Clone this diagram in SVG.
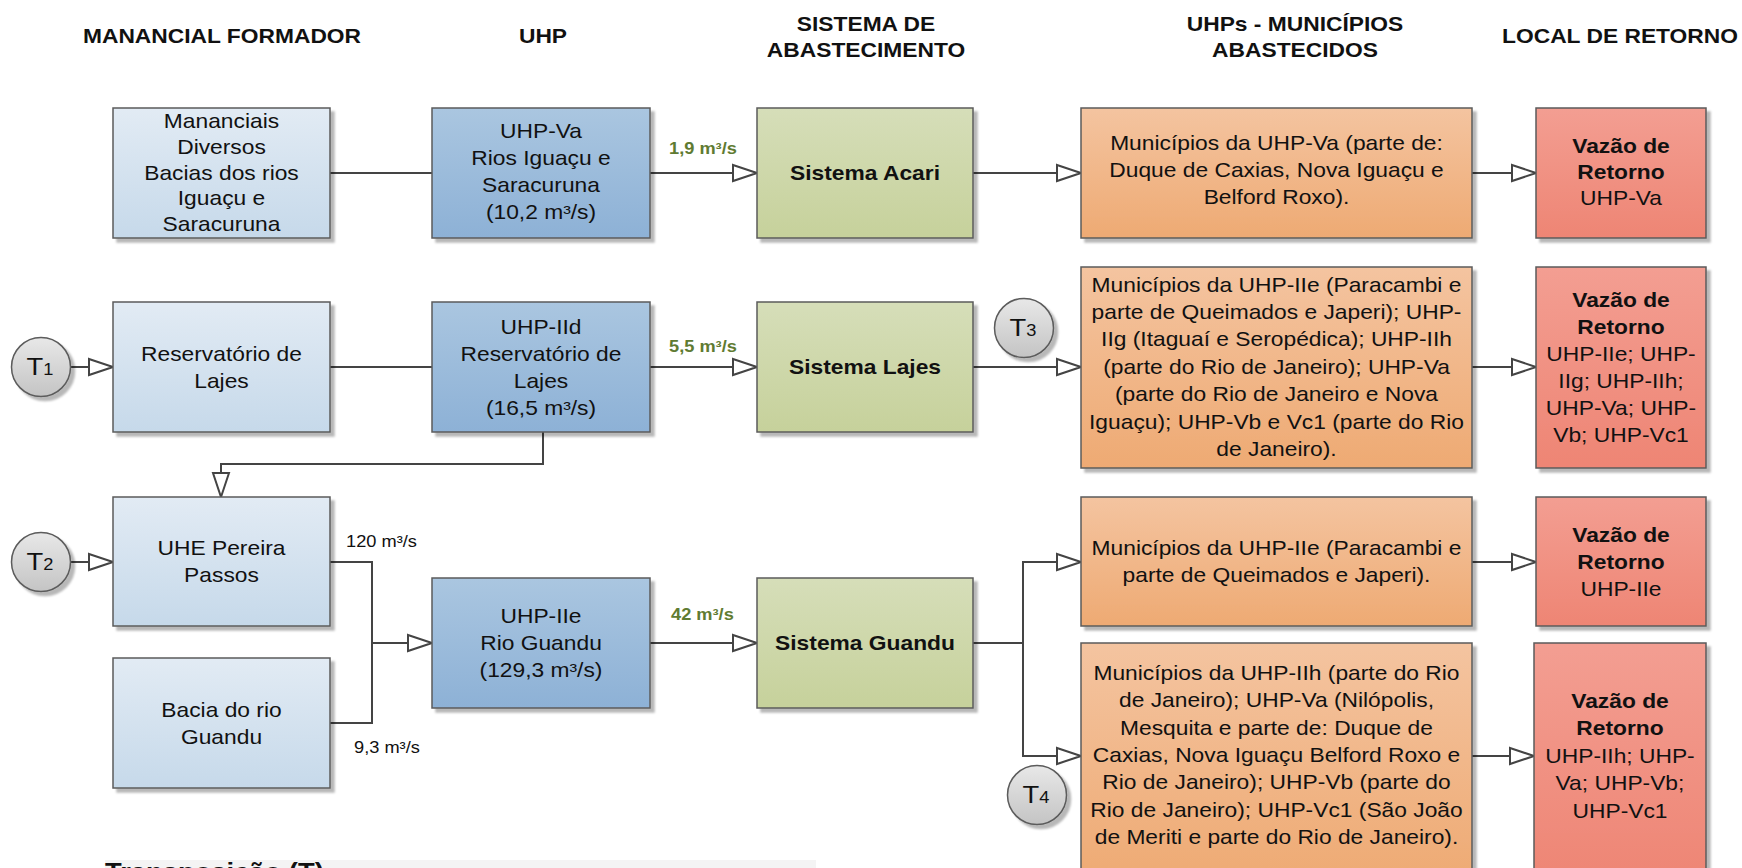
<svg xmlns="http://www.w3.org/2000/svg" width="1742" height="868" viewBox="0 0 1742 868">
  <defs>
    <linearGradient id="gLight" x1="0" y1="0" x2="0" y2="1">
      <stop offset="0" stop-color="#e2ebf4"/>
      <stop offset="1" stop-color="#c6d9ea"/>
    </linearGradient>
    <linearGradient id="gDark" x1="0" y1="0" x2="0" y2="1">
      <stop offset="0" stop-color="#aac6e0"/>
      <stop offset="1" stop-color="#8db1d6"/>
    </linearGradient>
    <linearGradient id="gGreen" x1="0" y1="0" x2="0" y2="1">
      <stop offset="0" stop-color="#d6deb9"/>
      <stop offset="1" stop-color="#c6d19b"/>
    </linearGradient>
    <linearGradient id="gOrange" x1="0" y1="0" x2="0" y2="1">
      <stop offset="0" stop-color="#f4c4a0"/>
      <stop offset="1" stop-color="#eeaa73"/>
    </linearGradient>
    <linearGradient id="gRed" x1="0" y1="0" x2="0" y2="1">
      <stop offset="0" stop-color="#f39e92"/>
      <stop offset="1" stop-color="#ee8574"/>
    </linearGradient>
    <linearGradient id="gGrey" x1="0" y1="0" x2="0" y2="1">
      <stop offset="0" stop-color="#e8e8e8"/>
      <stop offset="1" stop-color="#c4c4c4"/>
    </linearGradient>
    <filter id="shadow" x="-10%" y="-10%" width="130%" height="130%">
      <feDropShadow dx="4" dy="4" stdDeviation="1.2" flood-color="#000" flood-opacity="0.28"/>
    </filter>
    <marker id="arrow" viewBox="0 0 26 20" refX="25" refY="10" markerWidth="26" markerHeight="20" markerUnits="userSpaceOnUse" orient="auto">
      <path d="M1,2 L25,10 L1,18 Z" fill="#fff" stroke="#444" stroke-width="2"/>
    </marker>
  </defs>
  <style>
    .box{stroke:#5b5b5b;stroke-width:1.5;filter:url(#shadow)}
    .light{fill:url(#gLight)}
    .dark{fill:url(#gDark)}
    .green{fill:url(#gGreen)}
    .orange{fill:url(#gOrange)}
    .red{fill:url(#gRed)}
    .tank{fill:url(#gGrey);stroke:#5b5b5b;stroke-width:1.5;filter:url(#shadow)}
    .conn{fill:none;stroke:#444;stroke-width:2}
    .arr{marker-end:url(#arrow)}
    text{font-family:"Liberation Sans",Arial,Helvetica,sans-serif;fill:#111}
    .c{text-anchor:middle;font-size:20px}
    .b{font-weight:bold}
    .hdr{text-anchor:middle;font-size:20px;font-weight:bold}
    .flow{font-size:16px;font-weight:bold;fill:#5f7b32}
    .qty{font-size:16px}
    .tag{text-anchor:middle;font-size:24px}
    .sub{font-size:16px}
  </style>

  <rect width="1742" height="868" fill="#ffffff"/>

  <!-- column headings -->
  <g id="headers">
    <text class="hdr" transform="matrix(1.14 0 0 1 222 0)"><tspan x="0" y="43">MANANCIAL FORMADOR</tspan></text>
    <text class="hdr" transform="matrix(1.14 0 0 1 543 0)"><tspan x="0" y="43">UHP</tspan></text>
    <text class="hdr" transform="matrix(1.14 0 0 1 866 0)"><tspan x="0" y="31">SISTEMA DE</tspan><tspan x="0" y="57">ABASTECIMENTO</tspan></text>
    <text class="hdr" transform="matrix(1.14 0 0 1 1295 0)"><tspan x="0" y="31">UHPs - MUNICÍPIOS</tspan><tspan x="0" y="57">ABASTECIDOS</tspan></text>
    <text class="hdr" transform="matrix(1.14 0 0 1 1620 0)"><tspan x="0" y="43">LOCAL DE RETORNO</tspan></text>
  </g>

  <!-- connectors -->
  <g id="connectors">
    <path class="conn" d="M330,173 H432"/>
    <path class="conn arr" d="M650,173 H757"/>
    <path class="conn arr" d="M973,173 H1081"/>
    <path class="conn arr" d="M1472,173 H1536"/>

    <path class="conn arr" d="M70.5,367 H113"/>
    <path class="conn" d="M330,367 H432"/>
    <path class="conn arr" d="M650,367 H757"/>
    <path class="conn arr" d="M973,367 H1081"/>
    <path class="conn arr" d="M1472,367 H1536"/>
    <path class="conn arr" d="M543,432 V464 H221 V497"/>

    <path class="conn arr" d="M70.5,562 H113"/>
    <path class="conn" d="M330,562 H372 V723 H330"/>
    <path class="conn arr" d="M372,643 H432"/>
    <path class="conn arr" d="M650,643 H757"/>
    <path class="conn" d="M973,643 H1023"/>
    <path class="conn arr" d="M1023,643 V562 H1081"/>
    <path class="conn arr" d="M1023,643 V756 H1081"/>
    <path class="conn arr" d="M1472,562 H1536"/>
    <path class="conn arr" d="M1472,756 H1534"/>
  </g>

  <!-- row 1 -->
  <g id="mananciais-diversos">
    <rect class="box light" x="113" y="108" width="217" height="130"/>
    <text class="c" transform="matrix(1.14 0 0 1 221.5 0)"><tspan x="0" y="128">Mananciais</tspan><tspan x="0" y="154">Diversos</tspan><tspan x="0" y="180">Bacias dos rios</tspan><tspan x="0" y="205">Iguaçu e</tspan><tspan x="0" y="231">Saracuruna</tspan></text>
  </g>
  <g id="uhp-va">
    <rect class="box dark" x="432" y="108" width="218" height="130"/>
    <text class="c" transform="matrix(1.14 0 0 1 541 0)"><tspan x="0" y="138">UHP-Va</tspan><tspan x="0" y="165">Rios Iguaçu e</tspan><tspan x="0" y="192">Saracuruna</tspan><tspan x="0" y="219">(10,2 m³/s)</tspan></text>
  </g>
  <g id="sistema-acari">
    <rect class="box green" x="757" y="108" width="216" height="130"/>
    <text class="c b" transform="matrix(1.14 0 0 1 865 0)"><tspan x="0" y="180">Sistema Acari</tspan></text>
  </g>
  <g id="municipios-va">
    <rect class="box orange" x="1081" y="108" width="391" height="130"/>
    <text class="c" transform="matrix(1.14 0 0 1 1276.5 0)"><tspan x="0" y="150">Municípios da UHP-Va (parte de:</tspan><tspan x="0" y="177">Duque de Caxias, Nova Iguaçu e</tspan><tspan x="0" y="204">Belford Roxo).</tspan></text>
  </g>
  <g id="retorno-va">
    <rect class="box red" x="1536" y="108" width="170" height="130"/>
    <text class="c" transform="matrix(1.14 0 0 1 1621 0)"><tspan class="b" x="0" y="153">Vazão de</tspan><tspan class="b" x="0" y="179">Retorno</tspan><tspan x="0" y="205">UHP-Va</tspan></text>
  </g>

  <!-- row 2 -->
  <g id="t1">
    <circle class="tank" cx="41" cy="367" r="29.5"/>
    <text class="tag" transform="matrix(1.14 0 0 1 40 0)"><tspan x="0" y="375.5">T<tspan class="sub">1</tspan></tspan></text>
  </g>
  <g id="reservatorio-lajes">
    <rect class="box light" x="113" y="302" width="217" height="130"/>
    <text class="c" transform="matrix(1.14 0 0 1 221.5 0)"><tspan x="0" y="361">Reservatório de</tspan><tspan x="0" y="388">Lajes</tspan></text>
  </g>
  <g id="uhp-iid">
    <rect class="box dark" x="432" y="302" width="218" height="130"/>
    <text class="c" transform="matrix(1.14 0 0 1 541 0)"><tspan x="0" y="334">UHP-IId</tspan><tspan x="0" y="361">Reservatório de</tspan><tspan x="0" y="388">Lajes</tspan><tspan x="0" y="415">(16,5 m³/s)</tspan></text>
  </g>
  <g id="sistema-lajes">
    <rect class="box green" x="757" y="302" width="216" height="130"/>
    <text class="c b" transform="matrix(1.14 0 0 1 865 0)"><tspan x="0" y="374">Sistema Lajes</tspan></text>
  </g>
  <g id="t3">
    <circle class="tank" cx="1024" cy="328" r="29.5"/>
    <text class="tag" transform="matrix(1.14 0 0 1 1023 0)"><tspan x="0" y="336.5">T<tspan class="sub">3</tspan></tspan></text>
  </g>
  <g id="municipios-lajes">
    <rect class="box orange" x="1081" y="267" width="391" height="201"/>
    <text class="c" transform="matrix(1.14 0 0 1 1276.5 0)"><tspan x="0" y="292">Municípios da UHP-IIe (Paracambi e</tspan><tspan x="0" y="319">parte de Queimados e Japeri); UHP-</tspan><tspan x="0" y="346.5">IIg (Itaguaí e Seropédica); UHP-IIh</tspan><tspan x="0" y="374">(parte do Rio de Janeiro); UHP-Va</tspan><tspan x="0" y="401.5">(parte do Rio de Janeiro e Nova</tspan><tspan x="0" y="429">Iguaçu); UHP-Vb e Vc1 (parte do Rio</tspan><tspan x="0" y="456.5">de Janeiro).</tspan></text>
  </g>
  <g id="retorno-lajes">
    <rect class="box red" x="1536" y="267" width="170" height="201"/>
    <text class="c" transform="matrix(1.14 0 0 1 1621 0)"><tspan class="b" x="0" y="307">Vazão de</tspan><tspan class="b" x="0" y="334">Retorno</tspan><tspan x="0" y="361">UHP-IIe; UHP-</tspan><tspan x="0" y="388">IIg; UHP-IIh;</tspan><tspan x="0" y="415">UHP-Va; UHP-</tspan><tspan x="0" y="442">Vb; UHP-Vc1</tspan></text>
  </g>

  <!-- row 3 -->
  <g id="t2">
    <circle class="tank" cx="41" cy="562" r="29.5"/>
    <text class="tag" transform="matrix(1.14 0 0 1 40 0)"><tspan x="0" y="570.5">T<tspan class="sub">2</tspan></tspan></text>
  </g>
  <g id="uhe-pereira-passos">
    <rect class="box light" x="113" y="497" width="217" height="129"/>
    <text class="c" transform="matrix(1.14 0 0 1 221.5 0)"><tspan x="0" y="555">UHE Pereira</tspan><tspan x="0" y="582">Passos</tspan></text>
  </g>
  <g id="bacia-guandu">
    <rect class="box light" x="113" y="658" width="217" height="130"/>
    <text class="c" transform="matrix(1.14 0 0 1 221.5 0)"><tspan x="0" y="717">Bacia do rio</tspan><tspan x="0" y="744">Guandu</tspan></text>
  </g>
  <g id="uhp-iie">
    <rect class="box dark" x="432" y="578" width="218" height="130"/>
    <text class="c" transform="matrix(1.14 0 0 1 541 0)"><tspan x="0" y="623">UHP-IIe</tspan><tspan x="0" y="650">Rio Guandu</tspan><tspan x="0" y="677">(129,3 m³/s)</tspan></text>
  </g>
  <g id="sistema-guandu">
    <rect class="box green" x="757" y="578" width="216" height="130"/>
    <text class="c b" transform="matrix(1.14 0 0 1 865 0)"><tspan x="0" y="650">Sistema Guandu</tspan></text>
  </g>
  <g id="municipios-iie">
    <rect class="box orange" x="1081" y="497" width="391" height="129"/>
    <text class="c" transform="matrix(1.14 0 0 1 1276.5 0)"><tspan x="0" y="555">Municípios da UHP-IIe (Paracambi e</tspan><tspan x="0" y="582">parte de Queimados e Japeri).</tspan></text>
  </g>
  <g id="retorno-iie">
    <rect class="box red" x="1536" y="497" width="170" height="129"/>
    <text class="c" transform="matrix(1.14 0 0 1 1621 0)"><tspan class="b" x="0" y="542">Vazão de</tspan><tspan class="b" x="0" y="569">Retorno</tspan><tspan x="0" y="596">UHP-IIe</tspan></text>
  </g>
  <g id="t4">
    <circle class="tank" cx="1037" cy="795" r="29.5"/>
    <text class="tag" transform="matrix(1.14 0 0 1 1036 0)"><tspan x="0" y="803.5">T<tspan class="sub">4</tspan></tspan></text>
  </g>
  <g id="municipios-guandu">
    <rect class="box orange" x="1081" y="643" width="391" height="240"/>
    <text class="c" transform="matrix(1.14 0 0 1 1276.5 0)"><tspan x="0" y="680">Municípios da UHP-IIh (parte do Rio</tspan><tspan x="0" y="707">de Janeiro); UHP-Va (Nilópolis,</tspan><tspan x="0" y="735">Mesquita e parte de: Duque de</tspan><tspan x="0" y="762">Caxias, Nova Iguaçu Belford Roxo e</tspan><tspan x="0" y="789">Rio de Janeiro); UHP-Vb (parte do</tspan><tspan x="0" y="817">Rio de Janeiro); UHP-Vc1 (São João</tspan><tspan x="0" y="844">de Meriti e parte do Rio de Janeiro).</tspan></text>
  </g>
  <g id="retorno-guandu">
    <rect class="box red" x="1534" y="643" width="172" height="240"/>
    <text class="c" transform="matrix(1.14 0 0 1 1620 0)"><tspan class="b" x="0" y="708">Vazão de</tspan><tspan class="b" x="0" y="735">Retorno</tspan><tspan x="0" y="763">UHP-IIh;  UHP-</tspan><tspan x="0" y="790">Va; UHP-Vb;</tspan><tspan x="0" y="818">UHP-Vc1</tspan></text>
  </g>

  <!-- flow labels -->
  <g id="flow-labels">
    <text class="flow" transform="matrix(1.14 0 0 1 669 0)"><tspan x="0" y="154">1,9 m³/s</tspan></text>
    <text class="flow" transform="matrix(1.14 0 0 1 669 0)"><tspan x="0" y="352">5,5 m³/s</tspan></text>
    <text class="flow" transform="matrix(1.14 0 0 1 671 0)"><tspan x="0" y="620">42 m³/s</tspan></text>
    <text class="qty" transform="matrix(1.14 0 0 1 346 0)"><tspan x="0" y="547">120 m³/s</tspan></text>
    <text class="qty" transform="matrix(1.14 0 0 1 354 0)"><tspan x="0" y="753">9,3 m³/s</tspan></text>
  </g>

  <!-- legend caption, cut by the lower edge -->
  <g id="legend">
    <rect x="105" y="860" width="711" height="12" fill="#f4f4f4"/>
    <text class="b" font-size="24" transform="matrix(1.14 0 0 1 105 0)"><tspan x="0" y="880">Transposição (T)</tspan></text>
  </g>
</svg>
